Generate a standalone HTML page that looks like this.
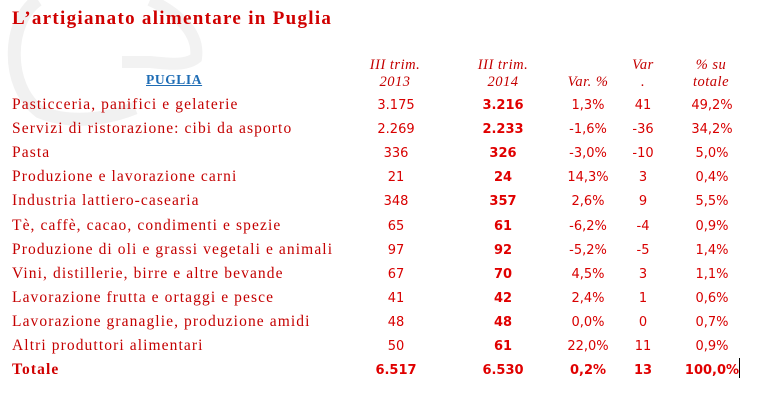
<!DOCTYPE html>
<html><head><meta charset="utf-8"><style>
body{margin:0;background:#fff;width:767px;height:404px;position:relative;overflow:hidden}
.a{position:absolute;white-space:nowrap}
.l{font-family:"Liberation Serif",serif;font-size:15.5px;letter-spacing:1.1px;color:#c40000;left:12px}
.n{font-family:"DejaVu Sans","Liberation Sans",sans-serif;font-size:13px;color:#d80000;text-align:center;width:80px}
.b{font-weight:bold;color:#e00000}
.h{font-family:"Liberation Serif",serif;font-style:italic;font-size:14.5px;letter-spacing:0.5px;color:#c40000;text-align:center;width:90px;line-height:17px}
</style></head><body>
<svg class="a" style="left:0;top:0" width="260" height="140">
<path d="M38,0 C8,20 4,85 40,112 C70,124 105,120 135,108" fill="none" stroke="#f1f1f1" stroke-width="13"/>
<path d="M150,0 C172,10 200,30 196,58 C186,66 168,64 150,62 L122,62" fill="none" stroke="#f2f2f2" stroke-width="12"/>
</svg>
<div class="a" style="left:12px;top:8px;font-family:'Liberation Serif',serif;font-weight:bold;font-size:19px;letter-spacing:1.3px;color:#d00000">L’artigianato alimentare in Puglia</div>
<div class="a" style="left:146px;top:72px;font-family:'Liberation Serif',serif;font-weight:bold;font-size:13.5px;letter-spacing:0.6px;color:#1f6db5;text-decoration:underline">PUGLIA</div>
<div class="a h" style="left:350px;top:57px">III trim.<br>2013</div>
<div class="a h" style="left:458px;top:57px">III trim.<br>2014</div>
<div class="a h" style="left:543px;top:74px">Var. %</div>
<div class="a h" style="left:598px;top:57px">Var<br>.</div>
<div class="a h" style="left:666px;top:57px">% su<br>totale</div>
<div id="rows"></div>
<div class="a" style="left:739px;top:358px;width:1px;height:20px;background:#000"></div>
<script>
var d=[["Pasticceria, panifici e gelaterie","3.175","3.216","1,3%","41","49,2%"],
["Servizi di ristorazione: cibi da asporto","2.269","2.233","-1,6%","-36","34,2%"],
["Pasta","336","326","-3,0%","-10","5,0%"],
["Produzione e lavorazione carni","21","24","14,3%","3","0,4%"],
["Industria lattiero-casearia","348","357","2,6%","9","5,5%"],
["Tè, caffè, cacao, condimenti e spezie","65","61","-6,2%","-4","0,9%"],
["Produzione di oli e grassi vegetali e animali","97","92","-5,2%","-5","1,4%"],
["Vini, distillerie, birre e altre bevande","67","70","4,5%","3","1,1%"],
["Lavorazione frutta e ortaggi e pesce","41","42","2,4%","1","0,6%"],
["Lavorazione granaglie, produzione amidi","48","48","0,0%","0","0,7%"],
["Altri produttori alimentari","50","61","22,0%","11","0,9%"],
["Totale","6.517","6.530","0,2%","13","100,0%"]];
var cx=[396,503,588,643,712],h="";
d.forEach(function(r,i){var y=98+i*24.1,t=i==11;
h+='<div class="a l" style="top:'+(y-2)+'px;'+(t?'font-weight:bold;color:#d00000':'')+'">'+r[0]+'</div>';
for(var j=1;j<6;j++){var b=(j==2||t)?' b':'';
h+='<div class="a n'+b+'" style="top:'+y+'px;left:'+(cx[j-1]-40)+'px">'+r[j]+'</div>';}});
document.getElementById('rows').innerHTML=h;
</script>
</body></html>
